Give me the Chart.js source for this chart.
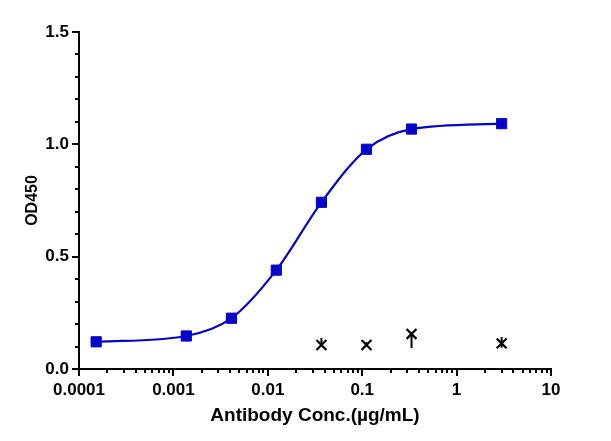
<!DOCTYPE html>
<html><head><meta charset="utf-8">
<script src="https://cdn.jsdelivr.net/npm/chart.js@4.4.1/dist/chart.umd.min.js"></script>
<style>html,body{margin:0;padding:0;background:#fff}canvas{display:block}</style>
</head><body>
<canvas id="c" width="611" height="441"></canvas>
<script>
// Data
const antibodyConc = [0.000152, 0.00137, 0.00412, 0.0123, 0.037, 0.111, 0.333, 3];
const antibodyOD = [0.121, 0.147, 0.226, 0.440, 0.742, 0.978, 1.068, 1.092];
const controlConc = [0.037, 0.111, 0.333, 3];
const controlOD = [0.107, 0.107, 0.156, 0.114];
const controlErrHigh = [0.138, 0.120, 0.160, 0.142];
const controlErrLow = [0.100, 0.100, 0.093, 0.095];
const xTickValues = [0.0001, 0.001, 0.01, 0.1, 1, 10];
const xTickLabels = ['0.0001', '0.001', '0.01', '0.1', '1', '10'];
const yTickValues = [0, 0.5, 1.0, 1.5];
const yTickLabels = ['0.0', '0.5', '1.0', '1.5'];
const yMinorStep = 0.1;

const FONT = 'Liberation Sans, Arial, Helvetica, sans-serif';
const BLUE = '#0505c8';

const errorBars = {
  id: 'errorBars',
  afterDatasetsDraw(chart) {
    const {ctx, scales: {x, y}} = chart;
    ctx.save();
    ctx.strokeStyle = '#000';
    ctx.lineWidth = 2;
    controlConc.forEach((c, i) => {
      const px = x.getPixelForValue(c);
      ctx.beginPath();
      ctx.moveTo(px, y.getPixelForValue(controlErrLow[i]));
      ctx.lineTo(px, y.getPixelForValue(controlErrHigh[i]));
      ctx.stroke();
    });
    ctx.restore();
  }
};

const minorTicks = {
  id: 'minorTicks',
  afterDraw(chart) {
    const {ctx, scales: {x, y}} = chart;
    ctx.save();
    ctx.strokeStyle = '#000';
    ctx.lineWidth = 2;
    for (let k = 1; k < 15; k++) {
      if (k % 5 === 0) continue;
      const py = Math.round(y.getPixelForValue(k * yMinorStep));
      ctx.beginPath();
      ctx.moveTo(y.right, py);
      ctx.lineTo(y.right - 4, py);
      ctx.stroke();
    }
    for (let e = -4; e < 1; e++) {
      for (let m = 2; m <= 9; m++) {
        const v = m * Math.pow(10, e);
        const px = Math.round(x.getPixelForValue(v));
        ctx.beginPath();
        ctx.moveTo(px, x.top);
        ctx.lineTo(px, x.top + 4);
        ctx.stroke();
      }
    }
    ctx.restore();
  }
};

new Chart(document.getElementById('c'), {
  type: 'line',
  data: {
    datasets: [
      {
        label: 'Antibody',
        data: antibodyConc.map((c, i) => ({x: c, y: antibodyOD[i]})),
        borderColor: BLUE,
        backgroundColor: BLUE,
        borderWidth: 2.2,
        pointStyle: 'rect',
        pointRadius: 7.2,
        pointBorderWidth: 1,
        cubicInterpolationMode: 'monotone',
        order: 0
      },
      {
        label: 'Control',
        data: controlConc.map((c, i) => ({x: c, y: controlOD[i]})),
        showLine: false,
        borderColor: '#000',
        backgroundColor: '#000',
        pointStyle: 'crossRot',
        pointRadius: 7,
        pointBorderWidth: 2.2,
        order: 1
      }
    ]
  },
  options: {
    responsive: false,
    animation: false,
    devicePixelRatio: 1,
    layout: {padding: {left: 23, top: 32, right: 60, bottom: 13.6}},
    plugins: {legend: {display: false}, tooltip: {enabled: false}},
    scales: {
      x: {
        type: 'logarithmic',
        min: 0.0001, max: 10,
        afterBuildTicks: (s) => { s.ticks = xTickValues.map(v => ({value: v})); },
        afterFit: (s) => { s.height = 58.4; },
        ticks: {
          autoSkip: false, maxRotation: 0,
          color: '#000', padding: 4,
          font: {family: FONT, size: 17, weight: 'bold'},
          callback: (v) => { const i = xTickValues.findIndex(t => Math.abs(t - v) / t < 1e-6); return i >= 0 ? xTickLabels[i] : ''; }
        },
        grid: {drawOnChartArea: false, drawTicks: true, tickLength: 7, color: '#000', lineWidth: 2},
        border: {display: true, color: '#000', width: 2},
        title: {display: true, text: 'Antibody Conc.(µg/mL)', color: '#000', padding: {top: 0, bottom: 0},
                font: {family: FONT, size: 19, weight: 'bold'}}
      },
      y: {
        min: 0, max: 1.5,
        afterBuildTicks: (s) => { s.ticks = yTickValues.map(v => ({value: v})); },
        afterFit: (s) => { s.width = 56; },
        ticks: {
          color: '#000', padding: 3,
          font: {family: FONT, size: 17, weight: 'bold'},
          callback: (v) => { const i = yTickValues.findIndex(t => Math.abs(t - v) < 1e-9); return i >= 0 ? yTickLabels[i] : ''; }
        },
        grid: {drawOnChartArea: false, drawTicks: true, tickLength: 7, color: '#000', lineWidth: 2},
        border: {display: true, color: '#000', width: 2},
        title: {display: true, text: 'OD450', color: '#000', padding: {top: 0, bottom: 0},
                font: {family: FONT, size: 16, weight: 'bold'}}
      }
    }
  },
  plugins: [errorBars, minorTicks]
});
</script>
</body></html>
